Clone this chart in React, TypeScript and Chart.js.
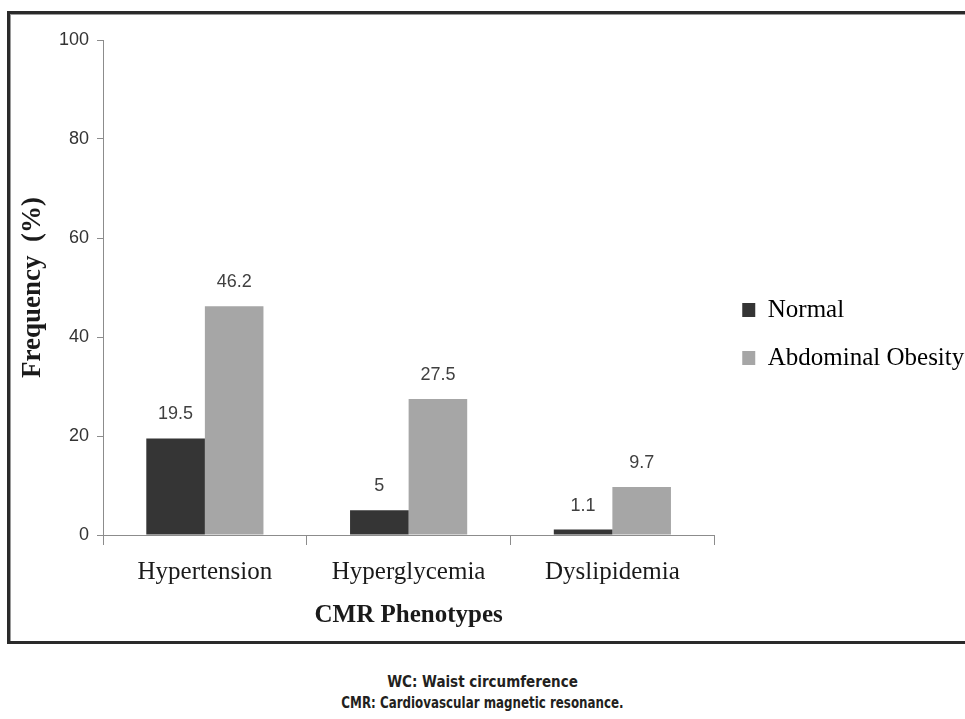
import React, { useEffect, useRef } from "react";
import { Chart, registerables } from "chart.js";

Chart.register(...registerables);

const categories = ["Hypertension", "Hyperglycemia", "Dyslipidemia"];
const normalValues = [19.5, 5, 1.1];
const obesityValues = [46.2, 27.5, 9.7];
const seriesNames = ["Normal", "Abdominal Obesity"];
const yTicks = [0, 20, 40, 60, 80, 100];
const footerLines = ["WC: Waist circumference", "CMR: Cardiovascular magnetic resonance."];

const SERIF = "'Liberation Serif', 'Times New Roman', serif";
const SANS = "'Liberation Sans', Arial, sans-serif";
const NARROW = "'Liberation Sans Narrow', 'DejaVu Sans Condensed', 'Arial Narrow', sans-serif";

const valueLabels = {
  id: "valueLabels",
  afterDatasetsDraw(chart: any) {
    const ctx = chart.ctx;
    ctx.save();
    ctx.font = `18px ${SANS}`;
    ctx.fillStyle = "#404040";
    ctx.textAlign = "center";
    ctx.textBaseline = "middle";
    chart.data.datasets.forEach((ds: any, di: number) => {
      const meta = chart.getDatasetMeta(di);
      meta.data.forEach((bar: any, i: number) => {
        ctx.fillText(String(ds.data[i]), bar.x, bar.y - 24);
      });
    });
    ctx.restore();
  },
};

const legendShift = {
  id: "legendShift",
  afterLayout(chart: any) {
    const l = chart.legend;
    if (l) {
      l.left += 5;
      l.right = chart.width;
      l.width = l.right - l.left;
    }
  },
};

export default function App() {
  const ref = useRef<HTMLCanvasElement | null>(null);

  useEffect(() => {
    document.body.style.margin = "0";
    document.body.style.overflow = "hidden";
    if (!ref.current) return;
    const chart = new Chart(ref.current, {
      type: "bar",
      data: {
        labels: categories,
        datasets: [
          {
            label: seriesNames[0],
            data: normalValues,
            backgroundColor: "#353535",
            borderWidth: 0,
          },
          {
            label: seriesNames[1],
            data: obesityValues,
            backgroundColor: "#a6a6a6",
            borderWidth: 0,
          },
        ],
      },
      options: {
        responsive: false,
        animation: false,
        devicePixelRatio: 1,
        datasets: { bar: { categoryPercentage: 0.575, barPercentage: 1.0 } },
        layout: { padding: { left: 10, top: 40, right: 16, bottom: 12 } },
        plugins: {
          tooltip: { enabled: false },
          legend: {
            position: "right",
            labels: {
              boxWidth: 13,
              boxHeight: 14,
              padding: 23,
              color: "#000000",
              font: { family: SERIF, size: 25 },
            },
          },
        },
        scales: {
          x: {
            afterFit: (s: any) => {
              s.height = 93;
            },
            grid: {
              display: true,
              offset: true,
              drawOnChartArea: false,
              drawTicks: true,
              tickLength: 10,
              color: "#8c8c8c",
            },
            border: { display: true, color: "#8c8c8c", width: 1 },
            ticks: {
              color: "#1a1a1a",
              padding: 12,
              maxRotation: 0,
              font: { family: SERIF, size: 25 },
            },
            title: {
              display: true,
              text: "CMR Phenotypes",
              color: "#1a1a1a",
              padding: { top: 0, bottom: 0 },
              font: { family: SERIF, size: 25, weight: "bold", lineHeight: 1 },
            },
          },
          y: {
            min: 0,
            max: 100,
            afterFit: (s: any) => {
              s.width = 93;
            },
            afterBuildTicks: (s: any) => {
              s.ticks = yTicks.map((v) => ({ value: v }));
            },
            grid: {
              display: true,
              drawOnChartArea: false,
              drawTicks: true,
              tickLength: 6,
              color: "#8c8c8c",
            },
            border: { display: true, color: "#8c8c8c", width: 1 },
            ticks: {
              color: "#333333",
              padding: 8,
              font: { family: SANS, size: 18 },
            },
            title: {
              display: true,
              text: "Frequency  (%)",
              color: "#1a1a1a",
              padding: { top: 10, bottom: 0 },
              font: { family: SERIF, size: 27, weight: "bold", lineHeight: 1 },
            },
          },
        },
      },
      plugins: [valueLabels, legendShift],
    });
    return () => chart.destroy();
  }, []);

  return (
    <div style={{ position: "relative", width: 965, height: 719, overflow: "hidden", background: "#ffffff" }}>
      <div
        style={{
          position: "absolute",
          left: 7,
          top: 11,
          width: 1000,
          height: 627,
          border: "3px solid #2a2a2a",
          boxShadow: "inset 1px 1px 0 #9a9a9a",
          pointerEvents: "none",
        }}
      />
      <canvas ref={ref} width={965} height={640} style={{ position: "absolute", left: 0, top: 0 }} />
      <div
        style={{
          position: "absolute",
          left: 0,
          top: 672,
          width: 965,
          textAlign: "center",
          fontFamily: NARROW,
          fontWeight: "bold",
          fontSize: 15,
          lineHeight: "21px",
          color: "#231f20",
        }}
      >
        {footerLines.map((t, i) => (
          <div key={t} style={{ transform: i === 1 ? "scaleX(0.88)" : "none" }}>
            {t}
          </div>
        ))}
      </div>
    </div>
  );
}
